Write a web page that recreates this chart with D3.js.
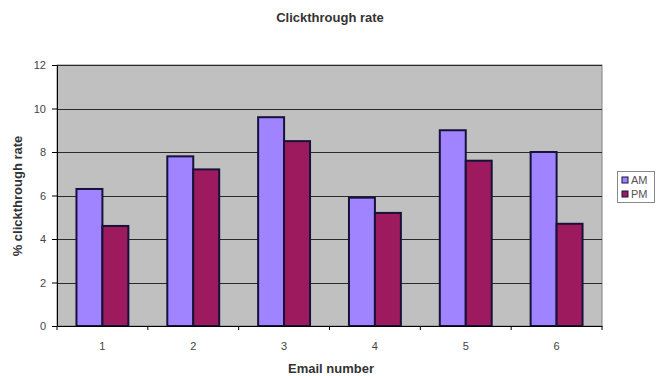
<!DOCTYPE html>
<html>
<head>
<meta charset="utf-8">
<script src="https://cdn.jsdelivr.net/npm/d3@7"></script>
<style>
  html, body { margin: 0; padding: 0; background: #ffffff; }
  svg { display: block; font-family: "Liberation Sans", Arial, sans-serif; }
</style>
</head>
<body>
<svg id="chart" width="660" height="376"></svg>
<script>
// Clickthrough rate per email, morning vs afternoon send
const categories = ["1", "2", "3", "4", "5", "6"];
const seriesNames = ["AM", "PM"];
const amValues = [6.3, 7.8, 9.6, 5.9, 9.0, 8.0];
const pmValues = [4.6, 7.2, 8.5, 5.2, 7.6, 4.7];
const yTicks = [0, 2, 4, 6, 8, 10, 12];
const colors = { AM: "#a084ff", PM: "#9e1a5e" };

const svg = d3.select("#chart");
const plot = { left: 57, right: 602, top: 65, bottom: 326 };

const x = d3.scaleBand().domain(categories).range([plot.left, plot.right]).padding(0);
const xSub = d3.scaleBand().domain(seriesNames).range([0, x.bandwidth()])
  .paddingInner(0).paddingOuter(0.75);
const y = d3.scaleLinear().domain([0, 12]).range([plot.bottom, plot.top]);

// plot area background
svg.append("rect")
  .attr("x", plot.left).attr("y", plot.top)
  .attr("width", plot.right - plot.left).attr("height", plot.bottom - plot.top)
  .attr("fill", "#c0c0c0").attr("stroke", "#808080").attr("stroke-width", 1);

// horizontal gridlines
svg.append("g").selectAll("line")
  .data(yTicks.filter(d => d > 0))
  .join("line")
  .attr("x1", plot.left).attr("x2", plot.right)
  .attr("y1", d => Math.round(y(d)) + 0.5).attr("y2", d => Math.round(y(d)) + 0.5)
  .attr("stroke", "#2a2a2a").attr("stroke-width", 1);

// bars
const rows = categories.map((c, i) => ({ cat: c, AM: amValues[i], PM: pmValues[i] }));
svg.append("g").selectAll("g")
  .data(rows)
  .join("g")
  .attr("transform", d => `translate(${x(d.cat)},0)`)
  .selectAll("rect")
  .data(d => seriesNames.map(s => ({ s, v: d[s] })))
  .join("rect")
  .attr("x", d => xSub(d.s))
  .attr("y", d => y(d.v))
  .attr("width", xSub.bandwidth())
  .attr("height", d => y(0) - y(d.v))
  .attr("fill", d => colors[d.s])
  .attr("stroke", "#16123a").attr("stroke-width", 2);

// y axis
const yAxis = svg.append("g")
  .attr("transform", `translate(${plot.left},0)`)
  .call(d3.axisLeft(y).tickValues(yTicks).tickSize(5).tickPadding(6).tickFormat(d3.format("d")));
yAxis.select(".domain").attr("stroke", "#000");
yAxis.selectAll(".tick line").attr("stroke", "#000");
yAxis.selectAll("text").attr("font-size", 11).attr("fill", "#444");

// x axis: ticks at category boundaries
const xAxis = svg.append("g")
  .attr("transform", `translate(0,${plot.bottom})`)
  .call(d3.axisBottom(x).tickSize(0).tickPadding(16));
xAxis.select(".domain").attr("stroke", "#000");
xAxis.selectAll("text").attr("font-size", 11).attr("fill", "#444");
xAxis.append("g").selectAll("line")
  .data(categories.map(c => x(c)).concat([plot.right]))
  .join("line")
  .attr("x1", d => d).attr("x2", d => d)
  .attr("y1", 0).attr("y2", 4)
  .attr("stroke", "#000");

// titles
svg.append("text")
  .attr("x", 330).attr("y", 22)
  .attr("text-anchor", "middle")
  .attr("font-size", 13).attr("font-weight", "bold").attr("fill", "#333")
  .text("Clickthrough rate");

svg.append("text")
  .attr("x", 331).attr("y", 373)
  .attr("text-anchor", "middle")
  .attr("font-size", 13).attr("font-weight", "bold").attr("fill", "#333")
  .text("Email number");

svg.append("text")
  .attr("transform", `translate(22,196) rotate(-90)`)
  .attr("text-anchor", "middle")
  .attr("font-size", 13).attr("font-weight", "bold").attr("fill", "#333")
  .text("% clickthrough rate");

// legend
const legend = svg.append("g").attr("transform", "translate(617,171)");
legend.append("rect")
  .attr("x", 0.5).attr("y", 0.5).attr("width", 37).attr("height", 31)
  .attr("fill", "#fff").attr("stroke", "#888");
seriesNames.forEach((s, i) => {
  const g = legend.append("g").attr("transform", `translate(5,${9 + i * 14})`);
  g.append("rect").attr("x", 0).attr("y", -3).attr("width", 6).attr("height", 6)
    .attr("fill", colors[s]).attr("stroke", "#16123a").attr("stroke-width", 1);
  g.append("text").attr("x", 9).attr("y", 4)
    .attr("font-size", 11).attr("fill", "#555").text(s);
});
</script>
</body>
</html>
